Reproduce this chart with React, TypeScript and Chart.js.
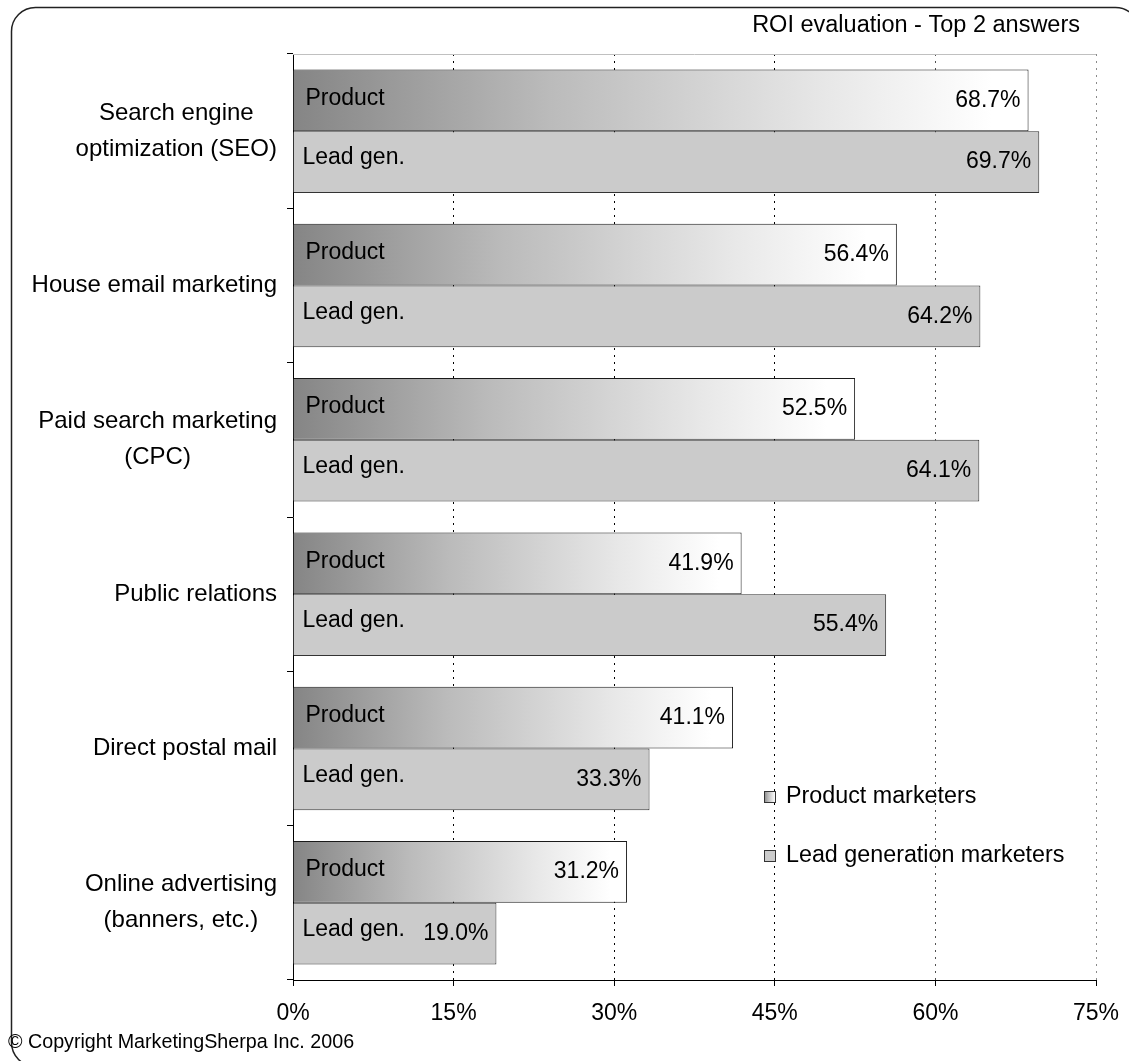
import React, { useEffect, useRef } from 'react';
import { Chart, registerables } from 'chart.js';

Chart.register(...registerables);

// ---- data ----
const categories: string[][] = [
  ['Search engine', 'optimization (SEO)'],
  ['House email marketing'],
  ['Paid search marketing', '(CPC)'],
  ['Public relations'],
  ['Direct postal mail'],
  ['Online advertising', '(banners, etc.)'],
];
const productValues = [68.7, 56.4, 52.5, 41.9, 41.1, 31.2];
const leadGenValues = [69.7, 64.2, 64.1, 55.4, 33.3, 19.0];
const seriesNames = ['Product marketers', 'Lead generation marketers'];
const barTags = ['Product', 'Lead gen.'];
const xMin = 0;
const xMax = 75;
const xStep = 15;
const titleText = 'ROI evaluation - Top 2 answers';
const copyrightText = '\u00A9 Copyright MarketingSherpa Inc. 2006';

const FONT = '"Liberation Sans", Arial, sans-serif';
const LEAD_FILL = '#cbcbcb';

function productGradient(ctx: CanvasRenderingContext2D, x0: number, x1: number) {
  const g = ctx.createLinearGradient(x0, 0, x1, 0);
  g.addColorStop(0, '#858585');
  g.addColorStop(0.35, '#bbbbbb');
  g.addColorStop(0.73, '#e8e8e8');
  g.addColorStop(0.95, '#ffffff');
  g.addColorStop(1, '#ffffff');
  return g;
}

function roundRect(ctx: CanvasRenderingContext2D, x: number, y: number, w: number, h: number, r: number) {
  ctx.beginPath();
  ctx.moveTo(x + r, y);
  ctx.lineTo(x + w - r, y);
  ctx.arcTo(x + w, y, x + w, y + r, r);
  ctx.lineTo(x + w, y + h - r);
  ctx.arcTo(x + w, y + h, x + w - r, y + h, r);
  ctx.lineTo(x + r, y + h);
  ctx.arcTo(x, y + h, x, y + h - r, r);
  ctx.lineTo(x, y + r);
  ctx.arcTo(x, y, x + r, y, r);
  ctx.closePath();
}

const decorPlugin = {
  id: 'decor',
  beforeDraw(chart: any) {
    const ctx: CanvasRenderingContext2D = chart.ctx;
    ctx.save();
    ctx.fillStyle = '#ffffff';
    ctx.fillRect(0, 0, chart.width, chart.height);
    roundRect(ctx, 11.5, 7.5, 1128, 1059, 24);
    ctx.lineWidth = 1.5;
    ctx.strokeStyle = '#222222';
    ctx.stroke();
    ctx.restore();
  },
  afterDatasetsDraw(chart: any) {
    const ctx: CanvasRenderingContext2D = chart.ctx;
    ctx.save();
    ctx.font = `23px ${FONT}`;
    ctx.fillStyle = '#000000';
    ctx.textBaseline = 'middle';
    chart.data.datasets.forEach((ds: any, di: number) => {
      const meta = chart.getDatasetMeta(di);
      meta.data.forEach((el: any, i: number) => {
        const base = el.base;
        const yc = el.y;
        ctx.textAlign = 'left';
        ctx.fillText(barTags[di], base + (di === 0 ? 12 : 9), yc + (di === 0 ? -2 : -4));
        ctx.textAlign = 'right';
        ctx.fillText(ds.data[i].toFixed(1) + '%', el.x - 8, yc);
      });
    });
    ctx.restore();
  },
  afterDraw(chart: any) {
    const ctx: CanvasRenderingContext2D = chart.ctx;
    const area = chart.chartArea;
    const ys = chart.scales.y;
    ctx.save();
    // plot top border
    ctx.strokeStyle = '#c0c0c0';
    ctx.lineWidth = 1;
    ctx.beginPath();
    ctx.moveTo(area.left, area.top + 0.5);
    ctx.lineTo(area.right, area.top + 0.5);
    ctx.stroke();

    ctx.fillStyle = '#000000';
    ctx.textBaseline = 'middle';
    // title
    ctx.font = `23.5px ${FONT}`;
    ctx.textAlign = 'right';
    ctx.fillText(titleText, 1080, 26);
    // category labels
    ctx.font = `24px ${FONT}`;
    const lineH = 36;
    categories.forEach((lines, i) => {
      const yc = ys.getPixelForValue(i);
      const maxW = Math.max(...lines.map((l) => ctx.measureText(l).width));
      const cx = 277 - maxW / 2;
      ctx.textAlign = 'center';
      lines.forEach((l, j) => {
        const y = yc + (j - (lines.length - 1) / 2) * lineH;
        ctx.fillText(l, cx, y);
      });
    });
    // legend
    ctx.font = `23.3px ${FONT}`;
    const lx = 764;
    const lys = [797, 856];
    seriesNames.forEach((name, i) => {
      const y = lys[i];
      ctx.fillStyle = i === 0 ? productGradient(ctx, lx, lx + 12) : LEAD_FILL;
      ctx.fillRect(lx, y - 6, 12, 12);
      ctx.strokeStyle = '#333333';
      ctx.lineWidth = 1;
      ctx.strokeRect(lx + 0.5, y - 5.5, 11, 11);
      ctx.fillStyle = '#000000';
      ctx.textAlign = 'left';
      ctx.fillText(name, 786, y);
    });
    // copyright
    ctx.font = `19.7px ${FONT}`;
    ctx.textAlign = 'left';
    ctx.fillText(copyrightText, 8, 1043);
    ctx.restore();
  },
};

export default function App() {
  const ref = useRef<HTMLCanvasElement | null>(null);

  useEffect(() => {
    document.body.style.margin = '0';
    const canvas = ref.current;
    if (!canvas) return;
    Chart.defaults.font.family = FONT;
    const chart = new Chart(canvas, {
      type: 'bar',
      data: {
        labels: categories.map((c) => c.join(' ')),
        datasets: [
          {
            label: seriesNames[0],
            data: productValues,
            backgroundColor: (c: any) => {
              const xs = c.chart.scales && c.chart.scales.x;
              if (!xs || c.type !== 'data' || c.raw == null) return '#bbbbbb';
              const x0 = xs.getPixelForValue(0);
              const x1 = xs.getPixelForValue(c.raw);
              if (!isFinite(x0) || !isFinite(x1) || x1 <= x0) return '#bbbbbb';
              return productGradient(c.chart.ctx, x0, x1);
            },
            borderColor: '#1a1a1a',
            borderWidth: 1,
          },
          {
            label: seriesNames[1],
            data: leadGenValues,
            backgroundColor: LEAD_FILL,
            borderColor: '#333333',
            borderWidth: 1,
          },
        ],
      },
      options: {
        indexAxis: 'y',
        responsive: false,
        animation: false,
        devicePixelRatio: 1,
        layout: { padding: { left: 0, top: 54, right: 33, bottom: 0 } },
        plugins: {
          legend: { display: false },
          title: { display: false },
          tooltip: { enabled: false },
        },
        datasets: {
          bar: { categoryPercentage: 0.8, barPercentage: 1 },
        },
        scales: {
          x: {
            type: 'linear',
            min: xMin,
            max: xMax,
            ticks: {
              stepSize: xStep,
              callback: (v: any) => v + '%',
              font: { size: 23, family: FONT },
              color: '#000000',
              padding: 14,
              maxRotation: 0,
            },
            grid: {
              color: (c: any) => {
                const v = c.tick ? c.tick.value : null;
                if (v === 0) return 'rgba(0,0,0,0)';
                if (v === 75) return '#8a8a8a';
                if (v === 60) return '#505050';
                return '#000000';
              },
              lineWidth: 1,
              drawOnChartArea: true,
              drawTicks: true,
              tickLength: 6,
              tickColor: '#000000',
              tickBorderDash: [],
            },
            border: { display: true, color: '#000000', width: 1, dash: [2, 5] },
            afterFit: (s: any) => {
              s.height = 81;
              s.paddingLeft = 0;
              s.paddingRight = 0;
            },
          },
          y: {
            type: 'category',
            offset: true,
            ticks: { display: false },
            grid: {
              offset: true,
              drawOnChartArea: false,
              drawTicks: true,
              tickLength: 6,
              color: '#000000',
              tickColor: '#000000',
            },
            border: { display: true, color: '#000000', width: 1 },
            afterFit: (s: any) => {
              s.width = 293;
              s.paddingTop = 0;
              s.paddingBottom = 0;
            },
          },
        },
      } as any,
      plugins: [decorPlugin],
    });
    return () => chart.destroy();
  }, []);

  return (
    <div style={{ width: 1129, height: 1061, position: 'relative' }}>
      <canvas ref={ref} width={1129} height={1061} style={{ display: 'block' }} />
    </div>
  );
}
